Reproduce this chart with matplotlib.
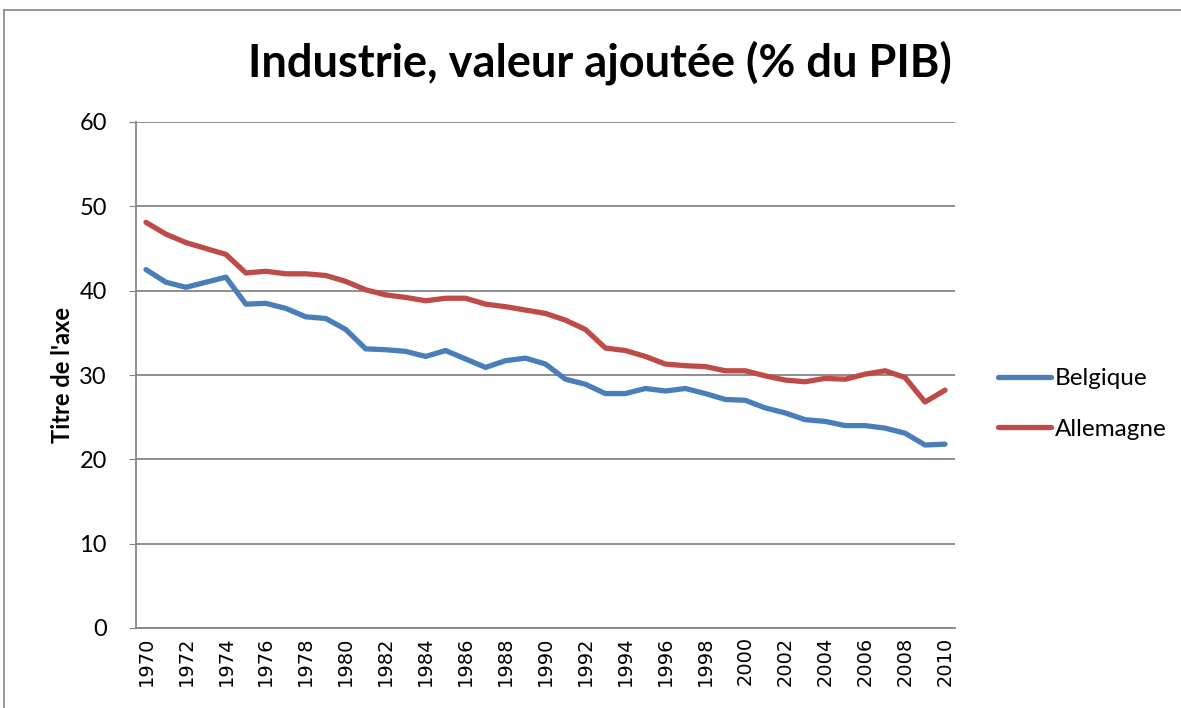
import matplotlib
matplotlib.use("Agg")
import matplotlib.pyplot as plt
import numpy as np
from matplotlib.lines import Line2D

years = np.arange(1970, 2011)
belgique = [42.5, 41.0, 40.4, 41.0, 41.6, 38.4, 38.5, 37.9, 36.9, 36.7,
            35.4, 33.1, 33.0, 32.8, 32.2, 32.9, 31.9, 30.9, 31.7, 32.0,
            31.3, 29.5, 28.9, 27.8, 27.8, 28.4, 28.1, 28.4, 27.8, 27.1,
            27.0, 26.1, 25.5, 24.7, 24.5, 24.0, 24.0, 23.7, 23.1, 21.7,
            21.8]
allemagne = [48.1, 46.7, 45.7, 45.0, 44.3, 42.1, 42.3, 42.0, 42.0, 41.8,
             41.1, 40.1, 39.5, 39.2, 38.8, 39.1, 39.1, 38.4, 38.1, 37.7,
             37.3, 36.5, 35.4, 33.2, 32.9, 32.2, 31.3, 31.1, 31.0, 30.5,
             30.5, 29.9, 29.4, 29.2, 29.6, 29.5, 30.1, 30.5, 29.7, 26.8,
             28.2]
tick_years = years[::2]

plt.rcParams['font.family'] = ['Lato', 'DejaVu Sans']

fig = plt.figure(figsize=(11.81, 7.08), dpi=100)
ax = fig.add_axes([136/1181, 1 - 628/708, 819/1181, 506/708])

blue = '#4A7EBB'
red = '#BE4B48'
ax.plot(years, belgique, color=blue, lw=3.8, solid_capstyle='round', label='Belgique')
ax.plot(years, allemagne, color=red, lw=3.8, solid_capstyle='round', label='Allemagne')

ax.set_xlim(1969.5, 2010.5)
ax.set_ylim(0, 60)
ax.set_yticks(range(0, 61, 10))
ax.set_xticks(tick_years)
ax.set_xticklabels([str(y) for y in tick_years], rotation=90, fontsize=14,
                   family=['DejaVu Sans'])
ax.tick_params(axis='y', labelsize=17, length=5, color='#868686', pad=16)
ax.tick_params(axis='x', length=0, pad=6)
ax.grid(axis='y', color='#868686', lw=1.3)
ax.set_axisbelow(True)
for s in ['top', 'right']:
    ax.spines[s].set_visible(False)
for s in ['left', 'bottom']:
    ax.spines[s].set_color('#868686')
    ax.spines[s].set_linewidth(1.3)

ax.set_ylabel("Titre de l'axe", fontsize=17, fontweight='bold', labelpad=4)

fig.text(600/1181, 1 - 63/708, 'Industrie, valeur ajoutée (% du PIB)',
         ha='center', va='center', fontsize=32.5, fontweight='bold')

handles = [Line2D([], [], color=blue, lw=3.8, solid_capstyle='round'),
           Line2D([], [], color=red, lw=3.8, solid_capstyle='round')]
fig.legend(handles, ['Belgique', 'Allemagne'], loc='center left',
           bbox_to_anchor=(976/1181, 1 - 404/708), frameon=False,
           fontsize=17.5, handlelength=2.2, handletextpad=0.15, labelspacing=1.2)

# chart frame
fig.add_artist(Line2D([4/1181, 1], [1 - 10/708, 1 - 10/708], color='#868686', lw=1.2))
fig.add_artist(Line2D([4/1181, 4/1181], [0, 1 - 10/708], color='#868686', lw=1.2))

fig.savefig('out.png', dpi=100)
